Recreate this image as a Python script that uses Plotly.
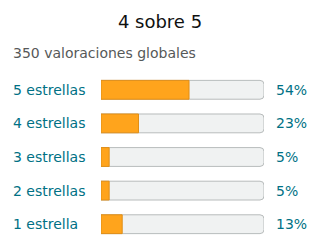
import plotly.graph_objects as go

categories = ["5 estrellas", "4 estrellas", "3 estrellas", "2 estrellas", "1 estrella"]
percents = [54, 23, 5, 5, 13]
full = [100, 100, 100, 100, 100]
title_text = "4 sobre 5"
subtitle_text = "350 valoraciones globales"

FONT = "DejaVu Sans"
TEAL = "#007185"

L, R, T, B = 101, 56, 73, 11
W, H = 320, 252
pw = W - L - R
ph = H - T - B

fig = go.Figure()
fig.add_trace(go.Bar(
    y=categories, x=full, orientation="h",
    marker=dict(color="#f0f2f2", line=dict(color="#b8bcbc", width=1)),
    width=0.56, hoverinfo="skip", showlegend=False,
))
fig.add_trace(go.Bar(
    y=categories, x=percents, orientation="h",
    marker=dict(color="#ffa41c", line=dict(color="#e08e17", width=1)),
    width=0.56, showlegend=False,
))

annotations = []
for c, p in zip(categories, percents):
    annotations.append(dict(
        x=(11 - L) / pw, xref="paper", y=c, yref="y", text=c, showarrow=False,
        xanchor="left", yanchor="middle", font=dict(family=FONT, size=14, color=TEAL),
    ))
    annotations.append(dict(
        x=(274 - L) / pw, xref="paper", y=c, yref="y", text=f"{p}%", showarrow=False,
        xanchor="left", yanchor="middle", font=dict(family=FONT, size=14, color=TEAL),
    ))
annotations.append(dict(
    x=(11 - L) / pw, xref="paper", xanchor="left",
    y=1 + (T - 53.5) / ph, yref="paper", yanchor="middle",
    text=subtitle_text, showarrow=False,
    font=dict(family=FONT, size=14, color="#565959"),
))

fig.update_layout(
    width=W, height=H,
    margin=dict(l=L, r=R, t=T, b=B),
    barmode="overlay",
    barcornerradius=4,
    paper_bgcolor="white", plot_bgcolor="white",
    title=dict(text=title_text, x=0.5, xanchor="center", y=1 - 21.5 / H, yanchor="middle",
               font=dict(family=FONT, size=18, color="#0f1111")),
    xaxis=dict(range=[0, 100], visible=False, fixedrange=True),
    yaxis=dict(categoryorder="array", categoryarray=categories, autorange="reversed",
               visible=False, fixedrange=True),
    annotations=annotations,
    font=dict(family=FONT),
)
fig.write_html("out.html")
